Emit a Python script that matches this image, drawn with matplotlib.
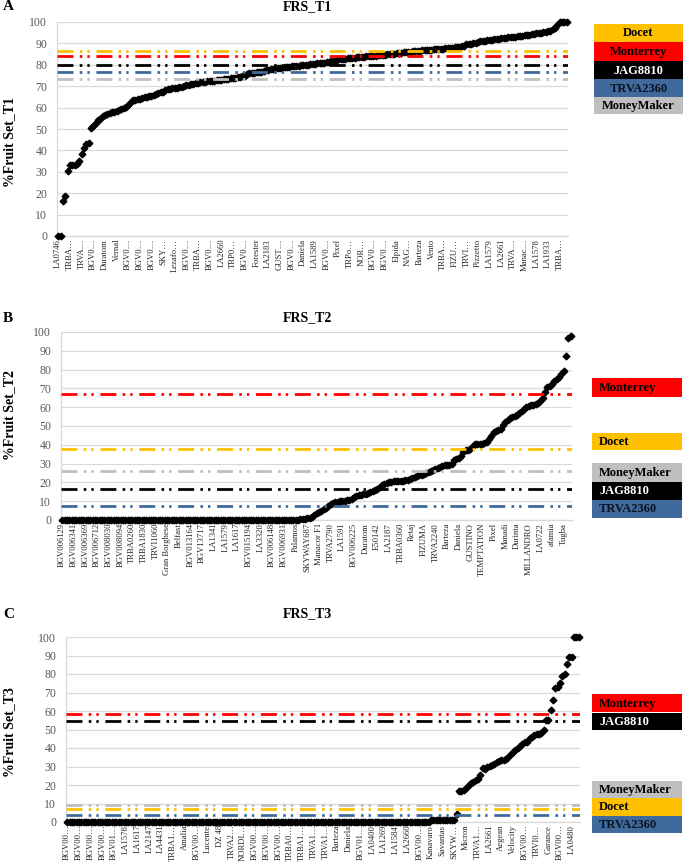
import matplotlib
matplotlib.use('Agg')
import matplotlib.pyplot as plt
from matplotlib.patches import Rectangle

plt.rcParams['font.family'] = ['Liberation Serif', 'DejaVu Serif']
plt.rcParams['lines.scale_dashes'] = False

# ---------------- data ----------------
t1_values = [
    0, 0, 16.5, 18.5, 30.5, 33, 33, 33, 33.5, 35,
    38.5, 41, 43, 43.5, 50.5, 51.5, 53, 54, 54.5, 56,
    56.5, 57, 57.5, 58, 58, 58.5, 59, 59.5, 60, 60.5,
    61, 62.5, 63.5, 63.5, 64, 64, 64.5, 65, 65, 65.5,
    65.5, 66, 66.5, 67, 67.5, 67.5, 68, 68.5, 68.5, 69,
    69, 69, 69.5, 69.5, 70, 70.5, 70.5, 71, 71, 71.5,
    71.5, 72, 72, 72, 72.5, 72.5, 72.5, 72.5, 73, 73,
    73, 73.5, 73.5, 73.5, 74, 74, 74, 74.5, 74.5, 75,
    75, 75.5, 76, 76, 76, 76.5, 76.5, 76.5, 77, 77.5,
    77.5, 78, 78, 78, 78.5, 78.5, 78.5, 79, 79, 79,
    79.5, 79.5, 79.5, 79.5, 80, 80, 80, 80, 80.5, 80.5,
    80.5, 81, 81, 81, 81, 81.5, 81.5, 82, 82, 82,
    82.5, 82.5, 82.5, 82.5, 83, 83, 83, 83, 83.5, 83.5,
    83.5, 83.5, 84, 84, 84, 84, 84, 84.5, 84.5, 84.5,
    84.5, 85, 85, 85, 85, 85.5, 85.5, 85.5, 86, 86,
    86, 86, 86.5, 86.5, 86.5, 86.5, 87, 87, 87, 87,
    87, 87.5, 87.5, 87.5, 87.5, 87.5, 88, 88, 88, 88,
    88.5, 88.5, 88.5, 89, 89, 89.5, 89.5, 89.5, 90, 90,
    90.5, 91, 91, 91, 91.5, 91.5, 91.5, 92, 92, 92,
    92.5, 92.5, 92.5, 93, 93, 93, 93, 93.5, 93.5, 93.5,
    94, 94, 94, 94.5, 94.5, 95, 95, 95, 95.5, 95.5,
    96, 96, 96.5, 97, 98.5, 100, 100, 100, 100,
]

t2_values = [
    0, 0, 0, 0, 0, 0, 0, 0, 0, 0,
    0, 0, 0, 0, 0, 0, 0, 0, 0, 0,
    0, 0, 0, 0, 0, 0, 0, 0, 0, 0,
    0, 0, 0, 0, 0, 0, 0, 0, 0, 0,
    0, 0, 0, 0, 0, 0, 0, 0, 0, 0,
    0, 0, 0, 0, 0, 0, 0, 0, 0, 0,
    0, 0, 0, 0, 0, 0, 0, 0, 0, 0,
    0, 0, 0, 0, 0, 0, 0, 0, 0, 0,
    0, 0, 0, 0, 0, 0, 0, 0, 0, 0,
    0, 0, 0, 0, 0, 0, 0, 0, 0, 0,
    0, 0, 0.5, 0.5, 0.5, 1, 1, 1.5, 2.5, 3.5,
    4, 5, 6, 6.5, 7.5, 8.5, 9, 9.5, 9.5, 10,
    10, 10, 10.5, 10.5, 11, 12, 13, 13.5, 13.5, 14,
    14, 14.5, 15, 15.5, 16, 16.5, 17.5, 18.5, 19, 19.5,
    20, 20, 20.5, 20.5, 21, 21, 21, 21.5, 21.5, 22,
    22.5, 23, 23.5, 24, 24, 24.5, 25, 25.5, 26, 26.5,
    27, 27.5, 28, 28.5, 29, 29.5, 29.5, 30, 32, 32.5,
    33, 34, 36, 37, 37.5, 38, 39.5, 40.5, 40.5, 40.5,
    40.5, 41, 41.5, 43, 44.5, 47, 47.5, 48, 48.5, 50.5,
    52, 53, 54.5, 55, 55.5, 56, 57, 58, 59, 60,
    60.5, 61, 61, 61.5, 62.5, 63.5, 65, 68, 70.5, 71.5,
    72.5, 74, 75, 76, 77.5, 79.5, 87, 97, 98,
]

t3_values = [
    0, 0, 0, 0, 0, 0, 0, 0, 0, 0,
    0, 0, 0, 0, 0, 0, 0, 0, 0, 0,
    0, 0, 0, 0, 0, 0, 0, 0, 0, 0,
    0, 0, 0, 0, 0, 0, 0, 0, 0, 0,
    0, 0, 0, 0, 0, 0, 0, 0, 0, 0,
    0, 0, 0, 0, 0, 0, 0, 0, 0, 0,
    0, 0, 0, 0, 0, 0, 0, 0, 0, 0,
    0, 0, 0, 0, 0, 0, 0, 0, 0, 0,
    0, 0, 0, 0, 0, 0, 0, 0, 0, 0,
    0, 0, 0, 0, 0, 0, 0, 0, 0, 0,
    0, 0, 0, 0, 0, 0, 0, 0, 0, 0,
    0, 0, 0, 0, 0, 0, 0, 0, 0, 0,
    0, 0, 0, 0, 0, 0, 0, 0, 0, 0,
    0, 0, 0, 0, 0, 0, 0, 0, 0, 0,
    0, 0, 0, 0, 0, 0, 0, 0, 0, 0,
    0, 0, 0, 0, 0, 1, 1, 1, 1, 1,
    1, 1, 1, 1, 1, 1, 4.5, 16.5, 17, 17.5,
    18.5, 20, 21, 21.5, 22.5, 23, 25.5, 29, 28.5, 29.5,
    30.5, 31, 31.5, 32.5, 33, 33.5, 33.5, 34, 35, 36.5,
    38, 39, 40, 41, 42, 43, 43.5, 45.5, 46, 47,
    47.5, 47.5, 48, 50, 55, 55, 60.5, 66, 72.5, 73,
    75, 79, 80, 85.5, 89, 89, 100, 100, 100,
]

t1_labels = ["LA0746", "TRBA…", "TRVA…", "BGV0…", "Duratom", "Vernal", "BGV0…",
             "BGV0…", "BGV0…", "SKY…", "Lezafo…", "BGV0…", "TRBA…", "BGV0…",
             "LA2660", "TRP0…", "BGV0…", "Forester", "LA2183", "GUST…", "BGV0…",
             "Daniela", "LA1589", "BGV0…", "Pixel", "TRPo…", "NOR…", "BGV0…",
             "BGV0…", "Elpida", "NAG…", "Barteza", "Vento", "TRBA…", "FIZU…",
             "TRVI…", "Pizzetto", "LA1579", "LA2661", "TRVA…", "Manac…",
             "LA1578", "LA1933", "TRBA…"]
t2_labels = ["BGV006129", "BGV006341", "BGV006369", "BGV006712", "BGV008030",
             "BGV008094", "TRBA0260", "TRBA1830", "TRVI1060", "Gran Borghese",
             "Belfast", "BGV013164", "BGV13717", "LA1341", "LA1579", "LA1617",
             "BGV015194", "LA3320", "BGV006148", "BGV006931", "Palamos",
             "SKYWAY687", "Manacor F1", "TRVA2790", "LA1591", "BGV006225",
             "Duratom", "E50142", "LA2187", "TRBA0360", "Retaj", "FIZUMA",
             "TRVA2240", "Barteza", "Daniela", "GUSTINO", "TEMPTATION", "Pixel",
             "Manadi", "Durinta", "MILLANDRO", "LA0722", "afamia", "Tugba"]
t3_labels = ["BGV00…", "BGV00…", "BGV00…", "BGV00…", "BGV01…", "LA1578", "LA1617",
             "LA2147", "LA4431", "TRBA1…", "Amalia", "BGV00…", "Lucente", "DZ 48",
             "TRVA2…", "NORDI…", "BGV00…", "BGV00…", "BGV00…", "TRBA0…", "TRBA1…",
             "TRVA1…", "TRVA1…", "Barteza", "Daniela", "BGV01…", "LA0400",
             "LA1269", "LA1584", "LA2660", "BGV00…", "Kanavaro", "Savantas",
             "SKYW…", "Micron", "TRVA1…", "LA2661", "Aegean", "Velocity",
             "BGV00…", "TRVI0…", "Garance", "BGV00…", "LA0480"]

check_names = ["Docet", "Monterrey", "JAG8810", "TRVA2360", "MoneyMaker"]
t1_check_values = [86.5, 84, 80, 76.5, 73.5]
t2_check_values = [38, 67, 16.5, 7.5, 26]
t3_check_values = [7, 58.5, 54.5, 4, 9]
check_colors = {"Docet": "#FFC000", "Monterrey": "#FF0000", "JAG8810": "#000000",
                "TRVA2360": "#3F6A9B", "MoneyMaker": "#BFBFBF"}
check_text_colors = {"Docet": "#000000", "Monterrey": "#000000", "JAG8810": "#FFFFFF",
                     "TRVA2360": "#0B1424", "MoneyMaker": "#000000"}

# ---------------- layout ----------------
W, H = 685, 868
fig = plt.figure(figsize=(W / 100, H / 100), dpi=100)

panels = [
    dict(letter="A", title="FRS_T1", ylabel="%Fruit Set_T1", values=t1_values,
         labels=t1_labels, checks=t1_check_values,
         box=(57, 22, 568, 236), title_y=7, ylabel_y=142,
         legend_x=(594, 683), legend_center=True,
         legend=[("Docet", 24, 42), ("Monterrey", 42, 61), ("JAG8810", 61, 79),
                 ("TRVA2360", 79, 97), ("MoneyMaker", 97, 114)]),
    dict(letter="B", title="FRS_T2", ylabel="%Fruit Set_T2", values=t2_values,
         labels=t2_labels, checks=t2_check_values,
         box=(61, 332, 572, 520), title_y=318, ylabel_y=415,
         legend_x=(592, 682), legend_center=False,
         legend=[("Monterrey", 378, 397), ("Docet", 433, 450), ("MoneyMaker", 463, 482),
                 ("JAG8810", 482, 500), ("TRVA2360", 500, 518)]),
    dict(letter="C", title="FRS_T3", ylabel="%Fruit Set_T3", values=t3_values,
         labels=t3_labels, checks=t3_check_values,
         box=(66, 637, 580, 822), title_y=614, ylabel_y=732,
         legend_x=(592, 682), legend_center=False,
         legend=[("Monterrey", 694, 712), ("JAG8810", 713, 730), ("MoneyMaker", 781, 798),
                 ("Docet", 798, 816), ("TRVA2360", 816, 833)]),
]

dash = (0, (11.5, 4.5, 1.9, 3.6, 1.7, 4.8))

for p in panels:
    x0, y0, x1, y1 = p["box"]
    ax = fig.add_axes([x0 / W, 1 - y1 / H, (x1 - x0) / W, (y1 - y0) / H])
    vals = p["values"]
    n = len(vals)
    xs = list(range(n))
    ax.set_xlim(-0.5, n - 0.5)
    ax.set_ylim(0, 100)
    ax.set_yticks(range(0, 101, 10))
    ax.yaxis.grid(True, color="#D9D9D9", lw=0.9)
    ax.set_axisbelow(True)
    for s in ("top", "right"):
        ax.spines[s].set_visible(False)
    for s in ("left", "bottom"):
        ax.spines[s].set_color("#D9D9D9")
        ax.spines[s].set_linewidth(0.9)
    ax.tick_params(axis="y", length=0, pad=7, labelsize=8.5, labelcolor="#595959")
    ax.tick_params(axis="x", length=0, pad=2, labelsize=6.2, labelcolor="#262626")
    ax.set_xticks(xs[::5])
    ax.set_xticklabels(p["labels"], rotation=90)

    ax.plot(xs, vals, linestyle="none", marker="D", ms=3.4, color="black",
            zorder=3, clip_on=False)
    for name, v in zip(check_names, p["checks"]):
        ax.axhline(v, color=check_colors[name], lw=2.0, ls=dash, zorder=4)

    # texts
    fig.text(3 / W, 1 - p["title_y"] / H, p["letter"], fontsize=11, fontweight="bold",
             ha="left", va="center")
    fig.text(307 / W, 1 - p["title_y"] / H, p["title"], fontsize=10, fontweight="bold",
             ha="center", va="center")
    fig.text(10 / W, 1 - p["ylabel_y"] / H, p["ylabel"], fontsize=10, fontweight="bold",
             rotation=90, ha="center", va="center")

    # legend boxes
    lx0, lx1 = p["legend_x"]
    for name, by0, by1 in p["legend"]:
        fig.add_artist(Rectangle((lx0 / W, 1 - by1 / H), (lx1 - lx0) / W, (by1 - by0) / H,
                                 transform=fig.transFigure, facecolor=check_colors[name],
                                 edgecolor="none"))
        ty = 1 - ((by0 + by1) / 2 + 0.5) / H
        if p["legend_center"]:
            fig.text((lx0 + lx1) / 2 / W, ty, name, fontsize=9, fontweight="bold",
                     ha="center", va="center", color=check_text_colors[name])
        else:
            fig.text((lx0 + 7) / W, ty, name, fontsize=9, fontweight="bold",
                     ha="left", va="center", color=check_text_colors[name])

fig.savefig("out.png", dpi=100)
